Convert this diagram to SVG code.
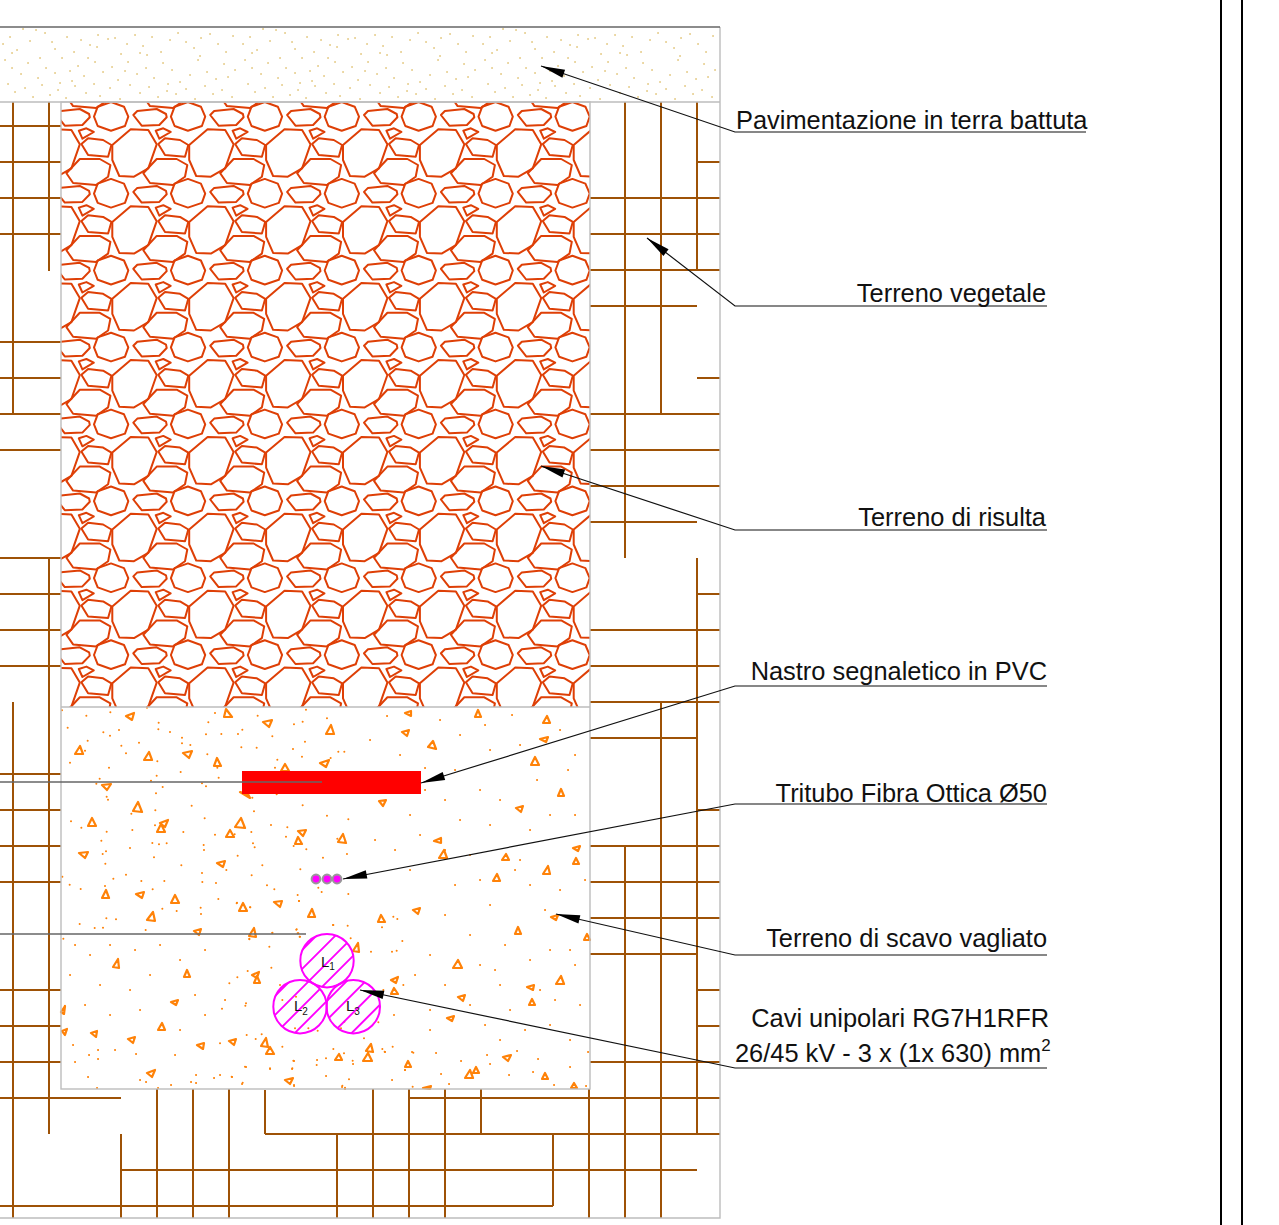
<svg xmlns="http://www.w3.org/2000/svg" width="1279" height="1225" viewBox="0 0 1279 1225">
<style>
text{font-family:"Liberation Sans",Arial,sans-serif;fill:#111}
.lab{font-size:25.4px}
.end{text-anchor:end}
.cab{font-size:15px}
.sub{font-size:10px}
.ground path{fill:none;stroke:#9e5206;stroke-width:2}
.frame{fill:none;stroke:#bdbdbd;stroke-width:1.4}
.dark{fill:none;stroke:#666;stroke-width:1.3}
.rub polygon{fill:none;stroke:#de3f06;stroke-width:2;stroke-linejoin:round}
.dots{fill:none;stroke:#ff8208;stroke-linecap:round}
.tri{fill:none;stroke:#ff8208;stroke-linejoin:round}
.pav{fill:none;stroke:#e6cd8c;stroke-width:1.9;stroke-linecap:round}
.lead{fill:none;stroke:#111;stroke-width:1.2}
.cable{stroke:#ff00ff;stroke-width:2;fill:url(#hatch)}
.pvc{fill:#ff00ff;stroke:#999;stroke-width:2}
</style>
<defs>
<clipPath id="trenchClip"><rect x="61" y="102" width="529" height="605"/></clipPath>
<pattern id="hatch" width="13.4" height="13.4" patternUnits="userSpaceOnUse" patternTransform="rotate(45)">
<rect x="0" y="0" width="1.9" height="13.4" fill="#ff00ff"/>
</pattern>
<marker id="arrow" markerUnits="userSpaceOnUse" markerWidth="30" markerHeight="14" refX="0" refY="7" orient="auto">
<polygon points="0,7 24,2.8 24,11.2" fill="#000"/>
</marker>
<g id="tile" class="rub">
<polygon points="94,116.7 97.7,106.7 111,102 124,106.7 128.3,116.7 125,126 111,130.7 97.7,126"/>
<polygon points="112.3,145 130.7,129.3 148.3,130 156.7,144.3 148.3,168.3 134,176.7 119.3,176 112.3,160"/>
<polygon points="133.3,115 137.3,111 156.7,109 166,114 166.7,117.3 159.3,125 141.7,125.7"/>
<polygon points="155.7,130.7 163.3,128.3 170.7,132 159.3,138.7"/>
<polygon points="158.3,144 165,138.3 180,140 188.3,145 185,156.7 165,155"/>
<polygon points="143.3,173.3 156.7,159 176.7,159 187.3,165 185,176.7 173,185 150,183"/>
</g>
<g id="rubRow">
<use href="#tile" x="-76.9"/><use href="#tile"/><use href="#tile" x="76.9"/><use href="#tile" x="153.8"/><use href="#tile" x="230.7"/><use href="#tile" x="307.6"/><use href="#tile" x="384.5"/><use href="#tile" x="461.4"/>
</g>
<path id="pavDots" d="M3 44h.1M10 37h.1M17 50h.1M23 29h.1M30 41h.1M36 30h.1M45 33h.1M52 42h.1M55 49h.1M62 58h.1M67 37h.1M74 52h.1M81 40h.1M90 45h.1M97 47h.1M98 35h.1M108 39h.1M115 38h.1M121 54h.1M127 44h.1M135 35h.1M143 46h.1M152 37h.1M161 52h.1M170 40h.1M178 33h.1M186 42h.1M194 48h.1M201 38h.1M210 34h.1M218 44h.1M226 52h.1M233 36h.1M5 60h.1M12 68h.1M21 74h.1M28 63h.1M38 78h.1M46 68h.1M55 73h.1M60 83h.1M70 71h.1M78 66h.1M84 76h.1M95 62h.1M103 72h.1M112 67h.1M118 80h.1M128 62h.1M137 74h.1M146 68h.1M154 78h.1M163 63h.1M172 70h.1M180 82h.1M190 75h.1M198 60h.1M207 72h.1M216 79h.1M224 64h.1M235 70h.1M8 84h.1M15 92h.1M25 88h.1M33 97h.1M42 85h.1M50 95h.1M58 90h.1M66 98h.1M75 86h.1M86 93h.1M94 84h.1M100 96h.1M110 88h.1M120 99h.1M130 85h.1M140 93h.1M149 87h.1M158 97h.1M168 84h.1M176 94h.1M186 89h.1M195 99h.1M205 86h.1M213 94h.1M222 90h.1M232 97h.1M140 53h.1M147 55h.1M88 58h.1M200 56h.1M12 53h.1M40 58h.1M228 77h.1M167 91h.1M72 81h.1M125 71h.1"/>
</defs>

<g id="ground" class="ground">
<path d="M0 126H61M0 162H61M0 198H61M0 234H61M0 342H61M0 378H61M0 414H61M0 450H61M0 558H61M0 594H61M0 630H61M0 666H61M0 774H61M0 810H61M0 846H61M0 882H61M0 990H61M0 1026H61M0 1062H61M0 1098H121"/>
<path d="M13 102V414M49 102V271M49 558V1134M13 702V1218M121 1134V1218M121 1170H697M0 1206H553M265 1090V1134M265 1134H720M409 1098H720"/>
<path d="M157 1089V1218M193 1089V1218M229 1089V1218M337 1134V1218M373 1089V1218M409 1089V1218M445 1089V1218M481 1089V1134M553 1134V1206M589 1089V1218M625 847V1218M661 702V1218M697 558V1134"/>
<path d="M625 102V558M661 102V414M697 102V270"/>
<path d="M697 162H720M590 198H720M590 234H720M590 270H720M590 306H697M697 378H720M590 414H720M590 450H720M590 486H720M590 522H697M697 594H720M590 630H720M590 666H720M590 702H720M590 738H697M697 810H720M590 846H720M590 882H720M590 918H720M590 954H697M697 990H720M697 1026H720M590 1062H720"/>
</g>

<g id="pavimentazione">
<use href="#pavDots" class="pav"/><use href="#pavDots" class="pav" x="240"/><use href="#pavDots" class="pav" x="480"/>
</g>

<g id="terreno-risulta">
<g clip-path="url(#trenchClip)">
<use href="#rubRow"/><use href="#rubRow" y="-76.9"/><use href="#rubRow" y="76.9"/><use href="#rubRow" y="153.8"/><use href="#rubRow" y="230.7"/><use href="#rubRow" y="307.6"/><use href="#rubRow" y="384.5"/><use href="#rubRow" y="461.4"/><use href="#rubRow" y="538.3"/>
</g>
</g>

<g id="terreno-scavo">
<path class="dots" stroke-width="6" transform="translate(0 690) scale(.3333)" d="M186 61h.1M259 77h.1M331 67h.1M441 53h.1M645 69h.1M773 77h.1M918 59h.1M981 85h.1M203 113h.1M310 127h.1M330 137h.1M357 120h.1M476 98h.1M475 118h.1M510 126h.1M546 143h.1M546 160h.1M571 165h.1M625 97h.1M618 133h.1M664 132h.1M714 132h.1M727 119h.1M817 139h.1M882 103h.1M908 95h.1M915 155h.1M263 152h.1M255 182h.1M364 167h.1M378 190h.1M417 158h.1M210 218h.1M327 233h.1M472 214h.1M622 193h.1M724 172h.1M770 173h.1M879 177h.1M906 200h.1M832 209h.1M825 233h.1M992 204h.1M1015 185h.1M1033 185h.1M542 246h.1M470 257h.1M453 272h.1M299 266h.1M289 281h.1M488 291h.1M468 310h.1M606 280h.1M618 289h.1M656 263h.1M652 233h.1M320 320h.1M324 329h.1M575 347h.1M466 361h.1M394 371h.1M614 385h.1M762 364h.1M757 323h.1M830 313h.1M908 346h.1M981 377h.1M1045 388h.1M213 394h.1M244 413h.1M320 425h.1M397 420h.1M465 406h.1M550 426h.1M645 434h.1M704 433h.1M754 426h.1M813 405h.1M862 412h.1M858 440h.1M304 452h.1M318 484h.1M308 492h.1M390 474h.1M457 459h.1M477 463h.1M500 460h.1M611 465h.1M612 480h.1M713 497h.1M759 460h.1M764 472h.1M881 468h.1M919 478h.1M969 503h.1M1012 446h.1M1041 492h.1M462 502h.1M316 521h.1M544 526h.1M679 540h.1M787 526h.1M901 538h.1M187 560h.1M378 554h.1M340 566h.1M606 549h.1M755 556h.1M424 573h.1M493 573h.1M607 576h.1M648 579h.1M209 584h.1M242 597h.1M315 588h.1M458 598h.1M801 586h.1M823 598h.1M955 593h.1M965 606h.1M1045 612h.1M893 615h.1M897 633h.1M655 627h.1M711 638h.1M751 652h.1M487 656h.1M530 663h.1M602 653h.1M603 672h.1M319 685h.1M348 688h.1M239 702h.1M284 714h.1M309 713h.1M437 720h.1M817 729h.1M889 719h.1M893 730h.1M899 740h.1M999 705h.1M748 746h.1M190 746h.1"/>
<path class="dots" stroke-width="6" transform="translate(220 900) scale(.3333)" d="M50 10h.1M90 22h.1M237 3h.1M157 98h.1M230 88h.1M235 100h.1M240 110h.1M88 118h.1M148 140h.1M340 75h.1M383 77h.1M392 115h.1M453 155h.1M516 155h.1M530 152h.1M547 123h.1M520 50h.1M532 57h.1M486 82h.1M490 270h.1M550 255h.1M83 213h.1M154 203h.1M52 232h.1M28 250h.1M180 255h.1M6 326h.1M78 310h.1M76 317h.1M228 290h.1M187 300h.1M225 385h.1M293 392h.1M265 385h.1M475 367h.1M373 365h.1M363 385h.1M522 345h.1M432 415h.1M80 405h.1M107 417h.1M125 403h.1M187 440h.1M0 430h.1M340 447h.1M372 460h.1M318 475h.1M398 482h.1M487 447h.1M494 455h.1M518 440h.1M580 458h.1M220 482h.1M290 495h.1M217 505h.1M75 500h.1M150 505h.1M35 530h.1M68 548h.1M222 555h.1M367 557h.1M375 563h.1M387 538h.1M555 510h.1M578 560h.1"/>
<path class="dots" stroke-width="2" d="M75 1062h.1M89 1055h.1M98 1050h.1M98 1059h.1M136 1054h.1M88 1077h.1M97 1088h.1M140 1080h.1M146 1082h.1M158 1088h.1M171 1085h.1M191 1082h.1M196 1083h.1M196 1075h.1M214 1078h.1M232 1077h.1M242 1084h.1M246 1067h.1M270 1069h.1M292 1069h.1M294 1061h.1M294 1086h.1M317 1060h.1M326 1076h.1M353 1064h.1M385 1052h.1M392 1080h.1M405 1070h.1M412 1052h.1M436 1053h.1M441 1074h.1M449 1084h.1M461 1061h.1M487 1055h.1M490 1064h.1M509 1075h.1M517 1051h.1M533 1072h.1M538 1059h.1M570 1067h.1M554 1085h.1M586 1086h.1M588 1052h.1M342 1087h.1M345 1089h.1M387 716h.1M440 720h.1M460 735h.1M485 725h.1M512 715h.1M370 740h.1M400 755h.1M425 768h.1M455 770h.1M490 750h.1M520 745h.1M560 730h.1M575 755h.1M480 790h.1M445 800h.1M460 820h.1M410 815h.1M375 840h.1M395 850h.1M420 835h.1M490 825h.1M530 830h.1M550 815h.1M575 815h.1M520 860h.1M470 855h.1M410 870h.1M455 885h.1M530 885h.1M560 890h.1M585 880h.1M490 905h.1M445 915h.1M470 935h.1M545 910h.1M505 945h.1M570 950h.1M480 965h.1M495 970h.1M530 960h.1M550 950h.1M430 955h.1M415 975h.1M445 985h.1M510 1010h.1M550 1025h.1M570 1040h.1M485 1025h.1M430 1030h.1M500 1040h.1M580 1005h.1M75 945h.1M90 955h.1M110 945h.1M135 950h.1M160 945h.1M180 960h.1M205 950h.1M70 975h.1M100 985h.1M130 990h.1M150 975h.1M85 1005h.1M110 1015h.1M140 1010h.1M195 995h.1M205 1015h.1M225 1000h.1M73 1045h.1M115 1050h.1M180 1030h.1M175 1055h.1M220 1075h.1M568 770h.1M537 780h.1M500 800h.1M425 790h.1M445 850h.1M540 990h.1M575 965h.1M500 985h.1M470 1005h.1M430 1010h.1M555 1000h.1M525 1030h.1M515 870h.1M480 880h.1"/>
<path class="tri" stroke-width="2.2" d="M126 716l8-3-2 7zM224 717l2-8 6 8zM263 722l9-2-3 7zM326 734l5-9 3 9zM75 754l5-8 3 8zM144 760l5-8 3 8zM183 753l9-2-3 7zM214 766l3-8 4 8zM320 763l9-3-3 7zM281 771l4-7 4 7zM102 785l9-1-4 6zM240 792l8 2 2 4zM133 811l5-9 4 10zM88 826l4-8 4 8zM235 827l6-9 4 10zM160 823l8-3-3 7zM157 832l4-8 4 8zM226 837l4-7 4 7zM298 831l8-1-3 6zM295 844l3-7 4 7zM338 842l5-8 3 9zM79 853l9-1-3 6zM217 863l8-2-2 6zM102 898l4-8 3 8zM136 894l8-2-2 6zM171 903l4-8 4 8zM239 911l4-8 4 8zM274 902l8-1-2 6zM308 917l4-8 3 8zM147 920l6-8 2 9zM194 931l7-2-2 6zM249 936l5-8 2 9zM405 713l6-2v5zM475 717l3-7 3 7zM543 723l4-7 3 7zM402 732l7-2-2 6zM428 747l5-6 3 8zM540 739l8-2-2 5zM531 765l4-8 4 8zM379 801l7-1-3 6zM558 796l3-7 3 7zM516 808l7-2-2 6zM434 841l7-3v5zM439 858l5-8 3 8zM502 860l4-6 3 6zM573 848l7-2-2 5zM573 864l3-6 3 6zM543 874l5-8 2 8zM493 881l4-7 3 7zM413 910l7-2-2 6zM378 922l3-7 4 7zM551 917l7-2-2 5zM515 934l3-7 3 7zM584 940l3-6 3 6zM453 968l5-8 4 8zM556 984l5-8 3 8zM527 987l7-2-1 5zM529 1005l3-6 3 6zM458 997l7-2-2 6zM447 1018l7-2-2 5zM113 967l5-8 1 9zM184 977l3-7 3 7zM171 1002l7-2-2 5zM61 1012l4-6-1 8zM158 1030l4-7 3 7zM128 1039l7-2-2 6zM91 1033l6-2-1 6zM62 1031l5-2-2 6zM197 1045l7-2-1 6zM229 1041l7-2-2 6zM261 1046l5-8 2 9zM266 1054l4-7 4 7zM366 1051l5-7 2 8zM363 1061l5-8 4 8zM335 1060l4-6 3 6zM405 1067l3-6 3 6zM465 1078l5-8 3 8zM473 1073l3-6 3 6zM503 1057l8-2-3 6zM542 1079l3-6 3 6zM147 1073l8-3-3 7zM285 1080l8-2-3 6zM423 1088l8-2-1 3zM571 1088l3-5 3 5zM353 951l5-8 1 9zM252 975l7-3-2 6zM254 983l3-7 3 7zM391 980l7-3-2 6zM391 994l3-6 4 6z"/>
</g>

<g id="frame">
<rect x="61" y="102" width="529" height="987" class="frame"/>
<path class="frame" d="M0 102H720M61 707H590M720 27V1218H0"/>
<path class="dark" d="M0 27H720"/>
</g>

<g id="nastro">
<rect x="242" y="771" width="179" height="23" fill="#ff0000"/>
<path class="dark" d="M0 782H322"/>
</g>
<path class="dark" d="M0 934H306"/>

<g id="tritubo">
<circle class="pvc" cx="316" cy="879" r="4.4"/><circle class="pvc" cx="327" cy="879" r="4.4"/><circle class="pvc" cx="337" cy="879" r="4.4"/>
</g>

<g id="cavo-L1"><circle class="cable" cx="327" cy="960.7" r="26.7"/><text class="cab" x="321" y="967">L<tspan class="sub" dy="3">1</tspan></text></g>
<g id="cavo-L2"><circle class="cable" cx="300" cy="1006.7" r="26.7"/><text class="cab" x="294" y="1011">L<tspan class="sub" dy="4">2</tspan></text></g>
<g id="cavo-L3"><circle class="cable" cx="353.3" cy="1006.7" r="26.7"/><text class="cab" x="346" y="1011">L<tspan class="sub" dy="4">3</tspan></text></g>

<g id="connectors">
<path class="lead" marker-start="url(#arrow)" d="M541 66L735 132H1086"/>
<path class="lead" marker-start="url(#arrow)" d="M647 238L735 306H1047"/>
<path class="lead" marker-start="url(#arrow)" d="M541 466L735 530H1047"/>
<path class="lead" marker-start="url(#arrow)" d="M421 783L735 686H1047"/>
<path class="lead" marker-start="url(#arrow)" d="M343 879L735 804H1047"/>
<path class="lead" marker-start="url(#arrow)" d="M556 914L735 955H1047"/>
<path class="lead" marker-start="url(#arrow)" d="M360 990L735 1068H1047"/>
</g>

<g id="label-pavimentazione"><text class="lab" x="736" y="129">Pavimentazione in terra battuta</text></g>
<g id="label-vegetale"><text class="lab end" x="1046" y="302">Terreno vegetale</text></g>
<g id="label-risulta"><text class="lab end" x="1046" y="526">Terreno di risulta</text></g>
<g id="label-nastro"><text class="lab end" x="1047" y="680">Nastro segnaletico in PVC</text></g>
<g id="label-tritubo"><text class="lab end" x="1047" y="802">Tritubo Fibra Ottica Ø50</text></g>
<g id="label-scavo"><text class="lab end" x="1047" y="947">Terreno di scavo vagliato</text></g>
<g id="label-cavi">
<text class="lab end" x="1049" y="1027">Cavi unipolari RG7H1RFR</text>
<text class="lab" x="735" y="1062">26/45 kV - 3 x (1x 630) mm<tspan font-size="17" dy="-11">2</tspan></text>
</g>

<g id="border"><path fill="none" stroke="#000" stroke-width="2" d="M1221 0V1225M1242 0V1225"/></g>
</svg>
